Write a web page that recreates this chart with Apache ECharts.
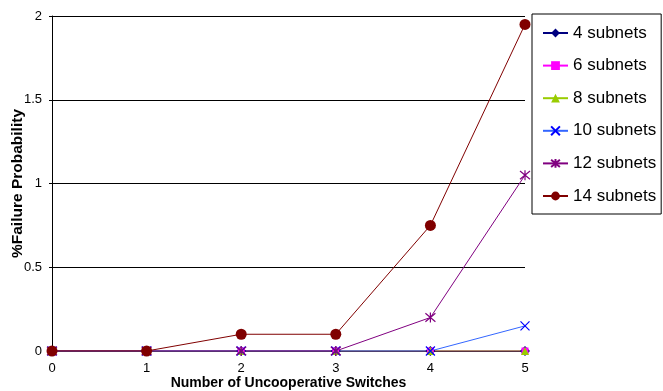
<!DOCTYPE html>
<html>
<head>
<meta charset="utf-8">
<script src="https://cdn.jsdelivr.net/npm/echarts@6/dist/echarts.min.js"></script>
<style>
  html, body { margin: 0; padding: 0; background: #fff; }
  #chart { width: 663px; height: 391px; }
</style>
</head>
<body>
<div id="chart"></div>
<script>
// Number of uncooperative switches (x values)
const switches = [0, 1, 2, 3, 4, 5];

// % failure probability for each subnet count
const subnets4  = [0, 0, 0, 0, 0, 0];
const subnets6  = [0, 0, 0, 0, 0, 0];
const subnets8  = [0, 0, 0, 0, 0, 0];
const subnets10 = [0, 0, 0, 0, 0, 0.15];
const subnets12 = [0, 0, 0, 0, 0.2, 1.05];
const subnets14 = [0, 0, 0.1, 0.1, 0.75, 1.95];

const seriesNames = ['4 subnets', '6 subnets', '8 subnets', '10 subnets', '12 subnets', '14 subnets'];
const seriesValues = [subnets4, subnets6, subnets8, subnets10, subnets12, subnets14];

const crossPath = 'path://M0,0L10,10M10,0L0,10';
const starPath = 'path://M0,0L10,10M10,0L0,10M5,-1L5,11';

const styles = [
  { line: '#000080', fill: '#000080', symbol: 'diamond', size: 10 },
  { line: '#ff00ff', fill: '#ff00ff', symbol: 'rect', size: 7 },
  { line: '#99cc00', fill: '#99cc00', symbol: 'triangle', size: 8 },
  { line: '#3366ff', fill: '#0000ff', symbol: crossPath, size: 9, stroke: true },
  { line: '#800080', fill: '#800080', symbol: starPath, size: 10, stroke: true },
  { line: '#800000', fill: '#800000', symbol: 'circle', size: 11 }
];

const series = seriesNames.map((name, i) => {
  const st = styles[i];
  return {
    name: name,
    type: 'line',
    data: switches.map((x, j) => [x, seriesValues[i][j]]),
    symbol: st.symbol,
    symbolSize: st.size,
    showAllSymbol: true,
    lineStyle: { color: st.line, width: 1 },
    itemStyle: st.stroke
      ? { color: 'rgba(0,0,0,0)', borderColor: st.fill, borderWidth: 1.2 }
      : { color: st.fill, borderWidth: 0 },
    emphasis: { disabled: true },
    animation: false
  };
});

const chart = echarts.init(document.getElementById('chart'), null, { renderer: 'canvas' });
chart.setOption({
  backgroundColor: '#fff',
  animation: false,
  textStyle: { fontFamily: 'Liberation Sans, Arial, sans-serif' },
  grid: { left: 52, right: 138, top: 16, bottom: 40, containLabel: false, outerBoundsMode: 'none' },
  xAxis: {
    type: 'value',
    min: 0, max: 5, interval: 1,
    name: 'Number of Uncooperative Switches',
    nameLocation: 'middle',
    nameGap: 25,
    nameMoveOverlap: false,
    nameTextStyle: { fontSize: 14, fontWeight: 'bold', color: '#000' },
    axisLine: { lineStyle: { color: '#000', width: 1 } },
    axisTick: { show: false },
    axisLabel: { color: '#000', fontSize: 13, margin: 11 },
    splitLine: { show: false }
  },
  yAxis: {
    type: 'value',
    min: 0, max: 2, interval: 0.5,
    name: '%Failure Probability',
    nameLocation: 'middle',
    nameGap: 26,
    nameMoveOverlap: false,
    nameTextStyle: { fontSize: 15.5, fontWeight: 'bold', color: '#000' },
    axisLine: { show: true, lineStyle: { color: '#000', width: 1 } },
    axisTick: { show: true, length: 3, lineStyle: { color: '#000' } },
    axisLabel: { color: '#000', fontSize: 13, margin: 10 },
    splitLine: { show: true, lineStyle: { color: '#000', width: 1 } }
  },
  legend: {
    orient: 'vertical',
    left: 532, top: 14,
    padding: [9, 5, 8, 10],
    itemGap: 12.6,
    itemWidth: 25,
    itemHeight: 11,
    borderColor: '#000',
    borderWidth: 1,
    textStyle: { fontSize: 17, color: '#000', lineHeight: 20 },
    data: seriesNames
  },
  series: series
});
</script>
</body>
</html>
